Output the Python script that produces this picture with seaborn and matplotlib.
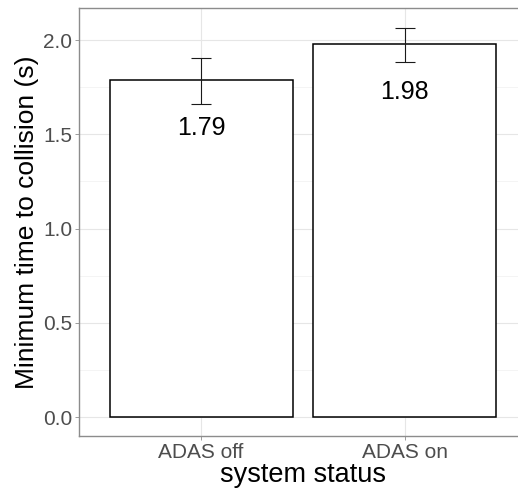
import matplotlib
matplotlib.use("Agg")
import matplotlib.pyplot as plt
import seaborn as sns
import numpy as np
import pandas as pd
from matplotlib.ticker import MultipleLocator

status = ["ADAS off", "ADAS on"]
mean_ttc = [1.79, 1.98]
err_low = [1.66, 1.885]
err_high = [1.905, 2.065]
value_labels = ["1.79", "1.98"]

sns.set_theme(style="white")
plt.rcParams['font.family'] = ['Liberation Sans', 'DejaVu Sans']

df = pd.DataFrame({"status": status, "ttc": mean_ttc})

fig = plt.figure(figsize=(5.18, 4.91), dpi=100)
ax = fig.add_axes([79/518, 55/491, 448/518, 428/491])

sns.barplot(data=df, x="status", y="ttc", width=0.9, color="white",
            edgecolor="black", linewidth=1.1, errorbar=None, ax=ax, zorder=2)

m = np.array(mean_ttc)
yerr = np.vstack([m - np.array(err_low), np.array(err_high) - m])
ax.errorbar(np.arange(len(status)), m, yerr=yerr, fmt="none", ecolor="#1a1a1a",
            elinewidth=0.8, capsize=7.2, capthick=0.8, zorder=3)

for i, (v, lab) in enumerate(zip(mean_ttc, value_labels)):
    ax.text(i, v - 0.255, lab, ha="center", va="center", fontsize=18, color="black", zorder=4)

ax.set_xlim(-0.6, 1.6)
ax.set_ylim(-0.1, 2.17)
ax.yaxis.set_major_locator(MultipleLocator(0.5))
ax.yaxis.set_minor_locator(MultipleLocator(0.25))
ax.yaxis.set_major_formatter(matplotlib.ticker.FormatStrFormatter("%.1f"))

ax.grid(True, which="major", color="#e6e6e6", linewidth=0.8, zorder=0)
ax.grid(True, which="minor", axis="y", color="#f0f0f0", linewidth=0.5, zorder=0)
ax.set_axisbelow(True)

for sp in ax.spines.values():
    sp.set_color("#8c8c8c")
    sp.set_linewidth(1.0)

ax.tick_params(axis="both", which="major", colors="#8c8c8c", length=3, width=0.6,
               labelcolor="#4d4d4d", labelsize=15, pad=2, left=True, bottom=True)
ax.tick_params(axis="y", which="minor", length=0)

ax.set_xlabel("system status", fontsize=19.5, color="black", labelpad=0)
ax.set_ylabel("Minimum time to collision (s)", fontsize=19, color="black", labelpad=3)

fig.savefig("out.png", dpi=100)
